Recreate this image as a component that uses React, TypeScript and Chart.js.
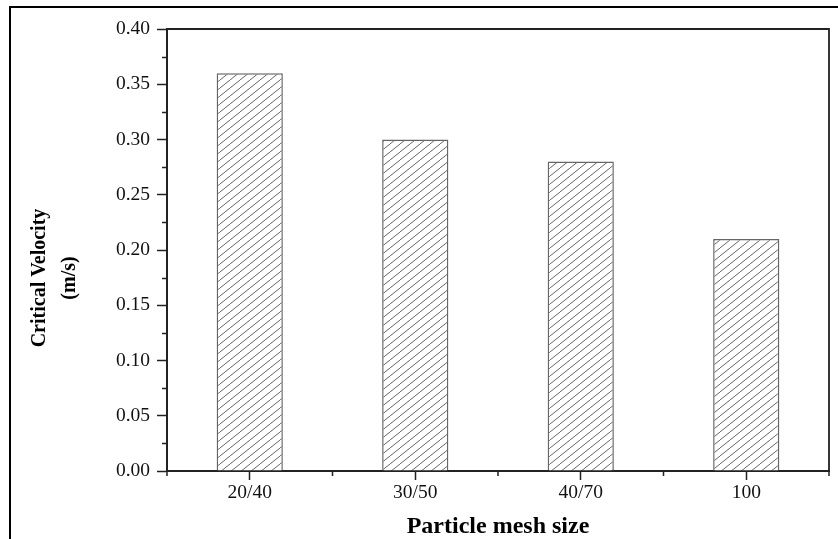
import React, { useEffect, useRef } from "react";
import { Chart, registerables } from "chart.js";

Chart.register(...registerables);

const categories = ["20/40", "30/50", "40/70", "100"];
const velocities = [0.36, 0.3, 0.28, 0.21];
const yMin = 0;
const yMax = 0.4;
const yMajorStep = 0.05;
const yMinorStep = 0.025;
const xTitle = "Particle mesh size";
const yTitleLines = ["Critical Velocity", "(m/s)"];

const SERIF = "'Liberation Serif', 'Times New Roman', serif";

function isMajor(v: number) {
  return Math.round(v * 1000) % Math.round(yMajorStep * 1000) === 0;
}

function makeHatch(): CanvasPattern | string {
  const w = 10;
  const h = 8;
  const c = document.createElement("canvas");
  c.width = w;
  c.height = h;
  const ctx = c.getContext("2d");
  if (!ctx) return "#ffffff";
  ctx.fillStyle = "#ffffff";
  ctx.fillRect(0, 0, w, h);
  ctx.strokeStyle = "#666666";
  ctx.lineWidth = 1;
  ctx.beginPath();
  for (let k = -1; k <= 1; k++) {
    ctx.moveTo(k * w, h);
    ctx.lineTo(k * w + w, 0);
  }
  ctx.stroke();
  const p = ctx.createPattern(c, "repeat");
  return p || "#ffffff";
}

const decorPlugin = {
  id: "decor",
  beforeDraw(chart: any) {
    const ctx = chart.ctx;
    ctx.save();
    ctx.fillStyle = "#ffffff";
    ctx.fillRect(0, 0, chart.width, chart.height);
    ctx.restore();
  },
  afterDraw(chart: any) {
    const ctx = chart.ctx;
    const a = chart.chartArea;
    const xs = chart.scales.x;
    const ys = chart.scales.y;
    ctx.save();
    // outer frame
    ctx.strokeStyle = "#000";
    ctx.lineWidth = 2;
    ctx.beginPath();
    ctx.moveTo(10, chart.height);
    ctx.lineTo(10, 7);
    ctx.lineTo(chart.width, 7);
    ctx.stroke();
    // plot frame top/right
    ctx.strokeStyle = "#222";
    ctx.lineWidth = 1.8;
    ctx.beginPath();
    ctx.moveTo(a.left, a.top);
    ctx.lineTo(a.right, a.top);
    ctx.lineTo(a.right, a.bottom);
    ctx.stroke();
    // y minor ticks
    ctx.lineWidth = 1.5;
    ctx.beginPath();
    for (let v = yMin; v <= yMax + 1e-9; v += yMinorStep) {
      if (isMajor(v)) continue;
      const y = Math.round(ys.getPixelForValue(v)) + 0.5;
      ctx.moveTo(a.left, y);
      ctx.lineTo(a.left - 5, y);
    }
    // x minor ticks at category boundaries
    for (let i = 0; i <= categories.length; i++) {
      const x = xs.getPixelForValue(i - 0.5);
      ctx.moveTo(x, a.bottom);
      ctx.lineTo(x, a.bottom + 5);
    }
    ctx.stroke();
    // x title
    ctx.fillStyle = "#000";
    ctx.font = "bold 24px " + SERIF;
    ctx.textAlign = "center";
    ctx.textBaseline = "alphabetic";
    ctx.fillText(xTitle, (a.left + a.right) / 2, 533);
    // y title (two lines, rotated)
    ctx.font = "bold 20px " + SERIF;
    const baselines = [45, 75];
    const cy = 278;
    yTitleLines.forEach((t, i) => {
      ctx.save();
      ctx.translate(baselines[i], cy);
      ctx.rotate(-Math.PI / 2);
      ctx.fillText(t, 0, 0);
      ctx.restore();
    });
    ctx.restore();
  },
};

export default function App() {
  const ref = useRef<HTMLCanvasElement | null>(null);
  useEffect(() => {
    if (!ref.current) return;
    const hatch = makeHatch();
    const chart = new Chart(ref.current, {
      type: "bar",
      data: {
        labels: categories,
        datasets: [
          {
            data: velocities,
            backgroundColor: hatch as any,
            borderColor: "#666666",
            borderWidth: 1.5,
            barPercentage: 0.4,
            categoryPercentage: 1,
          },
        ],
      },
      options: {
        responsive: false,
        animation: false,
        layout: { padding: { top: 29, right: 9, left: 0, bottom: 0 } },
        plugins: {
          legend: { display: false },
          tooltip: { enabled: false },
          title: { display: false },
        },
        scales: {
          x: {
            offset: true,
            afterFit: (s: any) => {
              s.height = 68;
            },
            grid: {
              display: true,
              offset: false,
              drawOnChartArea: false,
              drawTicks: true,
              tickLength: 9,
              tickColor: "#222",
              tickWidth: 1.5,
            },
            border: { display: true, color: "#222", width: 2 },
            ticks: {
              color: "#111",
              padding: 1,
              font: { family: SERIF, size: 19.5 },
              maxRotation: 0,
            },
          },
          y: {
            min: yMin,
            max: yMax,
            afterFit: (s: any) => {
              s.width = 167;
            },
            grid: {
              display: true,
              drawOnChartArea: false,
              drawTicks: true,
              tickLength: 10,
              tickWidth: 1.5,
              tickColor: (ctx: any) =>
                ctx.tick && isMajor(ctx.tick.value) ? "#222" : "rgba(0,0,0,0)",
            },
            border: { display: true, color: "#222", width: 2 },
            ticks: {
              stepSize: yMinorStep,
              autoSkip: false,
              color: "#111",
              padding: 7,
              font: { family: SERIF, size: 19.5 },
              callback: (v: any) => (isMajor(Number(v)) ? Number(v).toFixed(2) : ""),
            },
          },
        },
      },
      plugins: [decorPlugin],
    });
    return () => chart.destroy();
  }, []);
  return (
    <div style={{ position: "absolute", left: 0, top: 0, width: 838, height: 539 }}>
      <canvas ref={ref} width={838} height={539} style={{ display: "block" }} />
    </div>
  );
}
